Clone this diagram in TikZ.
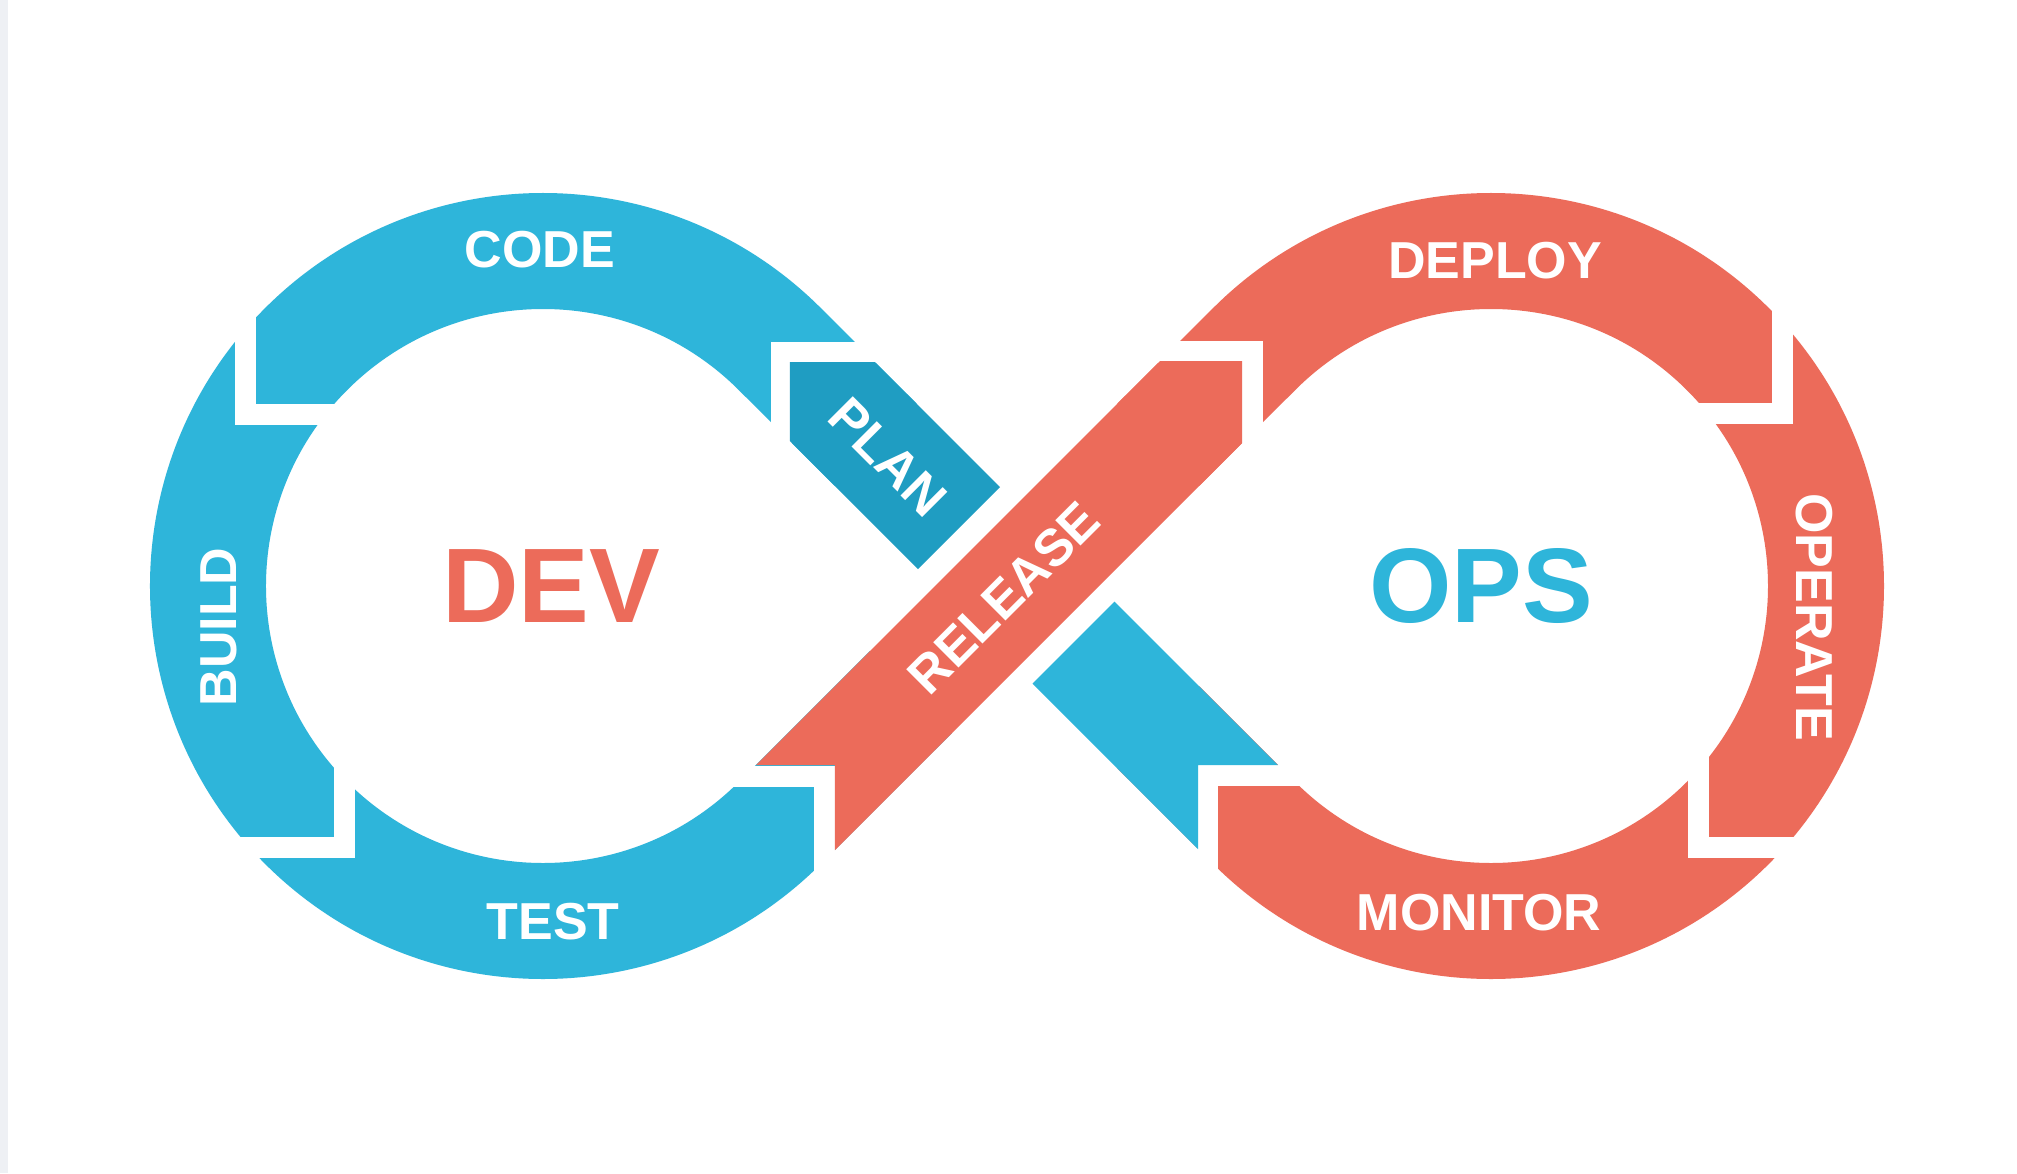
\documentclass[tikz,border=0pt]{standalone}
\usepackage{fontspec}
\setmainfont{Liberation Sans}
\definecolor{devblue}{HTML}{2EB5DA}
\definecolor{planblue}{HTML}{1F9DC2}
\definecolor{opsred}{HTML}{EC6B5A}
\definecolor{stripgray}{HTML}{EEF0F4}
\begin{document}
\begin{tikzpicture}[x=1pt,y=1pt,
  ribbon/.style={line width=116pt},
  gapline/.style={draw=white,line width=21pt,line join=miter},
  lbl/.style={text=white,font={\bfseries\fontsize{52}{56}\selectfont},inner sep=0pt},
  big/.style={font={\bfseries\fontsize{106}{110}\selectfont},inner sep=0pt}]
% canvas
\fill[white] (-1017,-587) rectangle (1000,586);
\fill[stripgray] (-1017,-587) rectangle (-1009,586);
\useasboundingbox (-1017,-587) rectangle (1000,586);
\coordinate (X) at (0,0);
\coordinate (Lc) at (-474,0);
\coordinate (Rc) at (474,0);
% rings
\draw[ribbon, devblue] (-141.4,141.4) -- (-237.12,236.88) arc[start angle=45,end angle=315,radius=335pt] -- (-106,-106);
\draw[ribbon, opsred] (141.4,141.4) -- (237.12,236.88) arc[start angle=135,end angle=-135,radius=335pt] -- (141.4,-141.4);
% gaps
\draw[gapline] (-771,320) -- (-771,171.5) -- (-640,171.5);
\draw[gapline] (-672.5,-150) -- (-672.5,-261) -- (-820,-261);
\draw[gapline] (-120,233.5) -- (-235.5,233.5) -- (-235.5,120);
\draw[gapline] (-330,-190) -- (-192,-190) -- (-192,-330);
\draw[gapline] (100,234) -- (235,234) -- (235,100);
\draw[gapline] (765.5,320) -- (765.5,173) -- (620,173);
\draw[gapline] (681,-150) -- (681,-261) -- (830,-261);
\draw[gapline] (330,-189.5) -- (190.5,-189.5) -- (190.5,-330);
% band pieces
\fill[planblue] (-227,224) -- (-142,224) -- (-17,99) -- (-99,17) -- (-227,145) -- cycle;
\fill[devblue] (181,-179) -- (261,-179) -- (97.5,-15.5) -- (15.5,-97.5) -- (181,-263) -- cycle;
\fill[opsred] (-182,-179) -- (-261,-179) -- (143,225) -- (225,225) -- (225,143) -- (-182,-264) -- cycle;
% labels
\node[lbl] (code) at (-477,336) {CODE};
\node[lbl] (test) at (-464,-336) {TEST};
\node[lbl, rotate=90] (build) at (-798,-41) {BUILD};
\node[lbl, rotate=-45] (plan) at (-129,129) {PLAN};
\node[lbl, rotate=45] (release) at (-13,-12) {RELEASE};
\node[lbl] (deploy) at (478,325) {DEPLOY};
\node[lbl, rotate=-90] (operate) at (797,-31) {OPERATE};
\node[lbl] (monitor) at (462,-327) {MONITOR};
\node[big, text=opsred] (dev) at (-466,0) {DEV};
\node[big, text=devblue] (ops) at (464,0) {OPS};
\end{tikzpicture}
\end{document}
